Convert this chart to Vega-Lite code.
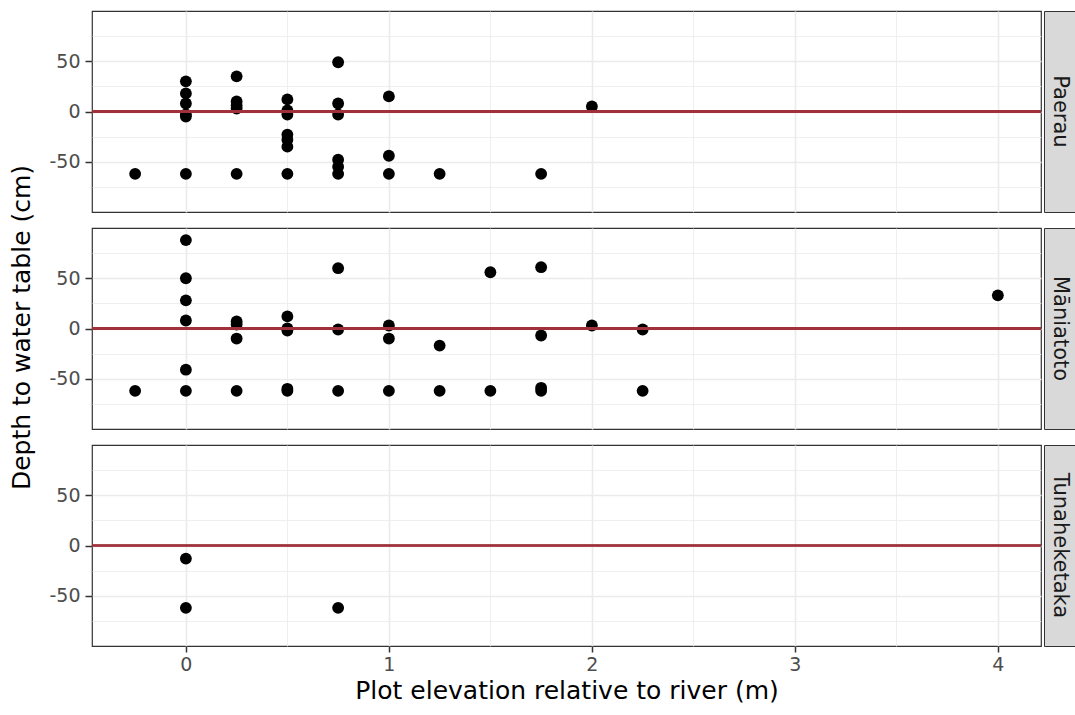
{
  "$schema": "https://vega.github.io/schema/vega-lite/v6.json",
  "background": "white",
  "padding": {"left": 9, "top": 10, "right": 1, "bottom": 2},
  "spacing": 13,
  "config": {
    "font": "DejaVu Sans",
    "view": {"stroke": "#333333", "strokeWidth": 1.2},
    "axis": {
      "gridColor": "#ebebeb",
      "domain": false,
      "tickColor": "#333333",
      "tickSize": 7,
      "tickWidth": 1.5,
      "labelColor": "#4d4d4d",
      "labelFontSize": 19,
      "labelFont": "DejaVu Sans",
      "titleFont": "DejaVu Sans",
      "titleFontSize": 25,
      "titleFontWeight": "normal",
      "titleColor": "black",
      "labelPadding": 5
    }
  },
  "datasets": {
    "pts": [
      {"site": "Paerau", "elev": -0.25, "depth": -62},
      {"site": "Paerau", "elev": 0, "depth": 30},
      {"site": "Paerau", "elev": 0, "depth": 18},
      {"site": "Paerau", "elev": 0, "depth": 8},
      {"site": "Paerau", "elev": 0, "depth": -3},
      {"site": "Paerau", "elev": 0, "depth": -5},
      {"site": "Paerau", "elev": 0, "depth": -62},
      {"site": "Paerau", "elev": 0.25, "depth": 35},
      {"site": "Paerau", "elev": 0.25, "depth": 10},
      {"site": "Paerau", "elev": 0.25, "depth": 6},
      {"site": "Paerau", "elev": 0.25, "depth": 3},
      {"site": "Paerau", "elev": 0.25, "depth": -62},
      {"site": "Paerau", "elev": 0.5, "depth": 12},
      {"site": "Paerau", "elev": 0.5, "depth": 1},
      {"site": "Paerau", "elev": 0.5, "depth": -3},
      {"site": "Paerau", "elev": 0.5, "depth": -23},
      {"site": "Paerau", "elev": 0.5, "depth": -28},
      {"site": "Paerau", "elev": 0.5, "depth": -35},
      {"site": "Paerau", "elev": 0.5, "depth": -62},
      {"site": "Paerau", "elev": 0.75, "depth": 49},
      {"site": "Paerau", "elev": 0.75, "depth": 8},
      {"site": "Paerau", "elev": 0.75, "depth": -3},
      {"site": "Paerau", "elev": 0.75, "depth": -48},
      {"site": "Paerau", "elev": 0.75, "depth": -55},
      {"site": "Paerau", "elev": 0.75, "depth": -62},
      {"site": "Paerau", "elev": 1, "depth": 15},
      {"site": "Paerau", "elev": 1, "depth": -44},
      {"site": "Paerau", "elev": 1, "depth": -62},
      {"site": "Paerau", "elev": 1.25, "depth": -62},
      {"site": "Paerau", "elev": 1.75, "depth": -62},
      {"site": "Paerau", "elev": 2, "depth": 5},
      {"site": "Māniatoto", "elev": -0.25, "depth": -62},
      {"site": "Māniatoto", "elev": 0, "depth": 88},
      {"site": "Māniatoto", "elev": 0, "depth": 50},
      {"site": "Māniatoto", "elev": 0, "depth": 28},
      {"site": "Māniatoto", "elev": 0, "depth": 8},
      {"site": "Māniatoto", "elev": 0, "depth": -41},
      {"site": "Māniatoto", "elev": 0, "depth": -62},
      {"site": "Māniatoto", "elev": 0.25, "depth": 7},
      {"site": "Māniatoto", "elev": 0.25, "depth": 4},
      {"site": "Māniatoto", "elev": 0.25, "depth": -10},
      {"site": "Māniatoto", "elev": 0.25, "depth": -62},
      {"site": "Māniatoto", "elev": 0.5, "depth": 12},
      {"site": "Māniatoto", "elev": 0.5, "depth": 0},
      {"site": "Māniatoto", "elev": 0.5, "depth": -2},
      {"site": "Māniatoto", "elev": 0.5, "depth": -60},
      {"site": "Māniatoto", "elev": 0.5, "depth": -62},
      {"site": "Māniatoto", "elev": 0.75, "depth": 60},
      {"site": "Māniatoto", "elev": 0.75, "depth": -1},
      {"site": "Māniatoto", "elev": 0.75, "depth": -62},
      {"site": "Māniatoto", "elev": 1, "depth": 3},
      {"site": "Māniatoto", "elev": 1, "depth": -10},
      {"site": "Māniatoto", "elev": 1, "depth": -62},
      {"site": "Māniatoto", "elev": 1.25, "depth": -17},
      {"site": "Māniatoto", "elev": 1.25, "depth": -62},
      {"site": "Māniatoto", "elev": 1.5, "depth": 56},
      {"site": "Māniatoto", "elev": 1.5, "depth": -62},
      {"site": "Māniatoto", "elev": 1.75, "depth": 61},
      {"site": "Māniatoto", "elev": 1.75, "depth": -7},
      {"site": "Māniatoto", "elev": 1.75, "depth": -59},
      {"site": "Māniatoto", "elev": 1.75, "depth": -62},
      {"site": "Māniatoto", "elev": 2, "depth": 3},
      {"site": "Māniatoto", "elev": 2.25, "depth": -1},
      {"site": "Māniatoto", "elev": 2.25, "depth": -62},
      {"site": "Māniatoto", "elev": 4, "depth": 33},
      {"site": "Tunaheketaka", "elev": 0, "depth": -13},
      {"site": "Tunaheketaka", "elev": 0, "depth": -62},
      {"site": "Tunaheketaka", "elev": 0.75, "depth": -62}
    ],
    "sites": [
      {"site": "Paerau"},
      {"site": "Māniatoto"},
      {"site": "Tunaheketaka"}
    ],
    "ytitle": [
      {"label": "Depth to water table (cm)"}
    ]
  },
  "hconcat": [
    {
      "width": 26, "height": 633,
      "view": {"stroke": null},
      "data": {"name": "ytitle"},
      "mark": {"type": "text", "angle": 270, "fontSize": 25, "color": "black", "font": "DejaVu Sans", "baseline": "middle", "align": "center"},
      "encoding": {"text": {"field": "label"}}
    },
    {
      "spacing": 14,
      "vconcat": [
        {
          "spacing": 0,
          "hconcat": [
            {
              "width": 949, "height": 201,
              "data": {"name": "pts"},
              "transform": [{"filter": "datum.site === 'Paerau'"}],
              "layer": [
                {
                  "mark": {"type": "circle", "size": 140, "color": "black", "opacity": 1},
                  "encoding": {
                    "x": {"field": "elev", "type": "quantitative", "scale": {"domain": [-0.4625, 4.2125], "nice": false, "zero": false},
                      "axis": {"values": [0, 0.5, 1, 1.5, 2, 2.5, 3, 3.5, 4], "labels": false, "ticks": false, "title": null, "minExtent": 0, "maxExtent": 0,
                        "gridWidth": {"condition": {"test": "datum.value % 1 === 0", "value": 1.6}, "value": 0.8}}},
                    "y": {"field": "depth", "type": "quantitative", "scale": {"domain": [-100, 100], "nice": false},
                      "axis": {"values": [-75, -50, -25, 0, 25, 50, 75], "title": null,
                        "gridWidth": {"condition": {"test": "datum.value % 50 === 0", "value": 1.6}, "value": 0.8},
                        "tickOpacity": {"condition": {"test": "datum.value % 50 === 0", "value": 1}, "value": 0},
                        "labelExpr": "datum.value % 50 === 0 ? replace(datum.label, '\u2212', '-') : ''"}}
                  }
                },
                {
                  "mark": {"type": "rule", "color": "#A0303A", "strokeWidth": 2},
                  "encoding": {"y": {"datum": 0, "type": "quantitative",
                      "axis": {"values": [-75, -50, -25, 0, 25, 50, 75], "title": null,
                        "gridWidth": {"condition": {"test": "datum.value % 50 === 0", "value": 1.6}, "value": 0.8},
                        "tickOpacity": {"condition": {"test": "datum.value % 50 === 0", "value": 1}, "value": 0},
                        "labelExpr": "datum.value % 50 === 0 ? replace(datum.label, '\u2212', '-') : ''"}}}
                }
              ]
            },
            {
              "width": 32, "height": 201,
              "view": {"fill": "#d9d9d9", "stroke": "#333333"},
              "data": {"name": "sites"},
              "transform": [{"filter": "datum.site === 'Paerau'"}],
              "mark": {"type": "text", "angle": 90, "fontSize": 21, "color": "#1a1a1a", "font": "DejaVu Sans", "baseline": "middle", "align": "center"},
              "encoding": {"text": {"field": "site"}}
            }
          ]
        },
        {
          "spacing": 0,
          "hconcat": [
            {
              "width": 949, "height": 201,
              "data": {"name": "pts"},
              "transform": [{"filter": "datum.site === 'Māniatoto'"}],
              "layer": [
                {
                  "mark": {"type": "circle", "size": 140, "color": "black", "opacity": 1},
                  "encoding": {
                    "x": {"field": "elev", "type": "quantitative", "scale": {"domain": [-0.4625, 4.2125], "nice": false, "zero": false},
                      "axis": {"values": [0, 0.5, 1, 1.5, 2, 2.5, 3, 3.5, 4], "labels": false, "ticks": false, "title": null, "minExtent": 0, "maxExtent": 0,
                        "gridWidth": {"condition": {"test": "datum.value % 1 === 0", "value": 1.6}, "value": 0.8}}},
                    "y": {"field": "depth", "type": "quantitative", "scale": {"domain": [-100, 100], "nice": false},
                      "axis": {"values": [-75, -50, -25, 0, 25, 50, 75], "title": null,
                        "gridWidth": {"condition": {"test": "datum.value % 50 === 0", "value": 1.6}, "value": 0.8},
                        "tickOpacity": {"condition": {"test": "datum.value % 50 === 0", "value": 1}, "value": 0},
                        "labelExpr": "datum.value % 50 === 0 ? replace(datum.label, '\u2212', '-') : ''"}}
                  }
                },
                {
                  "mark": {"type": "rule", "color": "#A0303A", "strokeWidth": 2},
                  "encoding": {"y": {"datum": 0, "type": "quantitative",
                      "axis": {"values": [-75, -50, -25, 0, 25, 50, 75], "title": null,
                        "gridWidth": {"condition": {"test": "datum.value % 50 === 0", "value": 1.6}, "value": 0.8},
                        "tickOpacity": {"condition": {"test": "datum.value % 50 === 0", "value": 1}, "value": 0},
                        "labelExpr": "datum.value % 50 === 0 ? replace(datum.label, '\u2212', '-') : ''"}}}
                }
              ]
            },
            {
              "width": 32, "height": 201,
              "view": {"fill": "#d9d9d9", "stroke": "#333333"},
              "data": {"name": "sites"},
              "transform": [{"filter": "datum.site === 'Māniatoto'"}],
              "mark": {"type": "text", "angle": 90, "fontSize": 21, "color": "#1a1a1a", "font": "DejaVu Sans", "baseline": "middle", "align": "center"},
              "encoding": {"text": {"field": "site"}}
            }
          ]
        },
        {
          "spacing": 0,
          "hconcat": [
            {
              "width": 949, "height": 201,
              "data": {"name": "pts"},
              "transform": [{"filter": "datum.site === 'Tunaheketaka'"}],
              "layer": [
                {
                  "mark": {"type": "circle", "size": 140, "color": "black", "opacity": 1},
                  "encoding": {
                    "x": {"field": "elev", "type": "quantitative", "scale": {"domain": [-0.4625, 4.2125], "nice": false, "zero": false},
                      "axis": {"values": [0, 0.5, 1, 1.5, 2, 2.5, 3, 3.5, 4], "title": "Plot elevation relative to river (m)", "titlePadding": 4, "tickSize": 6, "labelPadding": 3,
                        "gridWidth": {"condition": {"test": "datum.value % 1 === 0", "value": 1.6}, "value": 0.8},
                        "tickOpacity": {"condition": {"test": "datum.value % 1 === 0", "value": 1}, "value": 0},
                        "labelExpr": "datum.value % 1 === 0 ? format(datum.value, 'd') : ''"}},
                    "y": {"field": "depth", "type": "quantitative", "scale": {"domain": [-100, 100], "nice": false},
                      "axis": {"values": [-75, -50, -25, 0, 25, 50, 75], "title": null,
                        "gridWidth": {"condition": {"test": "datum.value % 50 === 0", "value": 1.6}, "value": 0.8},
                        "tickOpacity": {"condition": {"test": "datum.value % 50 === 0", "value": 1}, "value": 0},
                        "labelExpr": "datum.value % 50 === 0 ? replace(datum.label, '\u2212', '-') : ''"}}
                  }
                },
                {
                  "mark": {"type": "rule", "color": "#A0303A", "strokeWidth": 2},
                  "encoding": {"y": {"datum": 0, "type": "quantitative",
                      "axis": {"values": [-75, -50, -25, 0, 25, 50, 75], "title": null,
                        "gridWidth": {"condition": {"test": "datum.value % 50 === 0", "value": 1.6}, "value": 0.8},
                        "tickOpacity": {"condition": {"test": "datum.value % 50 === 0", "value": 1}, "value": 0},
                        "labelExpr": "datum.value % 50 === 0 ? replace(datum.label, '\u2212', '-') : ''"}}}
                }
              ]
            },
            {
              "width": 32, "height": 201,
              "view": {"fill": "#d9d9d9", "stroke": "#333333"},
              "data": {"name": "sites"},
              "transform": [{"filter": "datum.site === 'Tunaheketaka'"}],
              "mark": {"type": "text", "angle": 90, "fontSize": 21, "color": "#1a1a1a", "font": "DejaVu Sans", "baseline": "middle", "align": "center"},
              "encoding": {"text": {"field": "site"}}
            }
          ]
        }
      ]
    }
  ]
}
